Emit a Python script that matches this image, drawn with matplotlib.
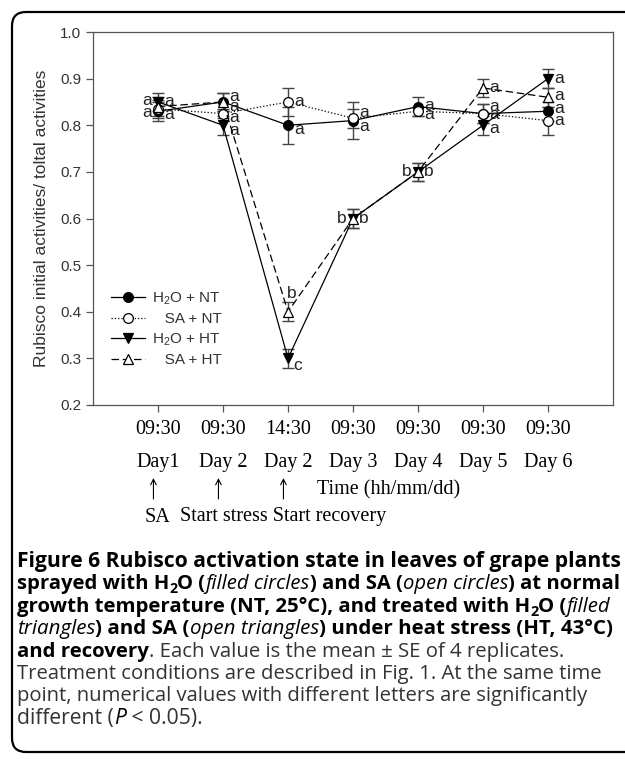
import numpy as np
import matplotlib.pyplot as plt
from matplotlib.patches import FancyBboxPatch
from matplotlib.transforms import IdentityTransform, blended_transform_factory

# sampling times (x positions 1..7)
time_labels = ['09:30', '09:30', '14:30', '09:30', '09:30', '09:30', '09:30']
day_labels = ['Day1', 'Day 2', 'Day 2', 'Day 3', 'Day 4', 'Day 5', 'Day 6']
event_labels = ['SA', 'Start stress', 'Start recovery']

# Rubisco initial / total activities, mean and SE
h2o_nt = [0.83, 0.85, 0.80, 0.81, 0.84, 0.825, 0.83]
h2o_nt_se = [0.02, 0.02, 0.04, 0.04, 0.02, 0.02, 0.02]
sa_nt = [0.835, 0.825, 0.85, 0.815, 0.83, 0.825, 0.81]
sa_nt_se = [0.02, 0.01, 0.03, 0.02, 0.01, 0.02, 0.03]
h2o_ht = [0.85, 0.80, 0.30, 0.60, 0.70, 0.80, 0.90]
h2o_ht_se = [0.02, 0.02, 0.02, 0.02, 0.02, 0.02, 0.02]
sa_ht = [0.84, 0.85, 0.40, 0.60, 0.70, 0.88, 0.86]
sa_ht_se = [0.02, 0.02, 0.02, 0.02, 0.02, 0.02, 0.02]

# significance letters
h2o_nt_let = ['a', 'a', 'a', 'a', 'a', 'a', 'a']
sa_nt_let = ['a', 'a', 'a', 'a', 'a', 'a', 'a']
h2o_ht_let = ['a', 'a', 'c', 'b', 'b', 'a', 'a']
sa_ht_let = ['a', 'a', 'b', 'b', 'b', 'a', 'a']

# letter offsets in points (dx, dy)
h2o_nt_off = [(-8, -1), (8, -3), (8, -3), (8, -4), (8, 1), (8, -1), (8, 2)]
sa_nt_off = [(8, -4), (8, -3), (8, 0), (8, 4), (8, -2), (8, 5), (8, 0)]
h2o_ht_off = [(-8, 1), (8, -4), (7, -5), (-8, 0), (-8, 0), (8, -2), (8, 0)]
sa_ht_off = [(8, 4), (8, 4), (3, 13), (8, 0), (8, 0), (8, 0), (8, 1)]

W, H = 625, 759
plt.rcParams['mathtext.default'] = 'regular'
fig = plt.figure(figsize=(W / 100, H / 100), dpi=100)
ax = fig.add_axes([93 / W, 1 - 405 / H, 520 / W, 373 / H])

x = np.arange(1, 8)
series = [
    (h2o_nt, h2o_nt_se, h2o_nt_let, h2o_nt_off, 'o', 'black', '-', 'H$_2$O + NT'),
    (sa_nt, sa_nt_se, sa_nt_let, sa_nt_off, 'o', 'white', ':', '   SA + NT'),
    (h2o_ht, h2o_ht_se, h2o_ht_let, h2o_ht_off, 'v', 'black', '-', 'H$_2$O + HT'),
    (sa_ht, sa_ht_se, sa_ht_let, sa_ht_off, '^', 'white', (0, (6, 3)), '   SA + HT'),
]
handles = []
for y, se, lets, offs, mk, fc, ls, lab in series:
    ax.errorbar(x, y, yerr=se, fmt='none', ecolor='#444444', elinewidth=1.0,
                capsize=4.5, capthick=1.0, zorder=2)
    h, = ax.plot(x, y, linestyle=ls, color='black', lw=0.9, marker=mk,
                 markersize=7, markerfacecolor=fc, markeredgecolor='black',
                 markeredgewidth=0.9, zorder=3, label=lab)
    handles.append(h)
    for xi, yi, t, (dx, dy) in zip(x, y, lets, offs):
        ax.annotate(t, (xi, yi), xytext=(dx, dy), textcoords='offset points',
                    ha='center', va='center', fontsize=12.5,
                    family='Liberation Sans', color='#222222')

ax.set_xlim(0, 8)
ax.set_ylim(0.2, 1.0)
ax.set_xticks(x)
ax.set_xticklabels([])
ax.set_yticks(np.arange(0.2, 1.01, 0.1))
ax.set_yticklabels([f'{v:.1f}' for v in np.arange(0.2, 1.01, 0.1)])
for sp in ax.spines.values():
    sp.set_color('#555555')
    sp.set_linewidth(0.9)
ax.tick_params(direction='out', length=5, width=0.9, color='#555555',
               labelsize=11, labelcolor='#333333')
for lb in ax.get_yticklabels():
    lb.set_family('Liberation Sans')
ax.set_ylabel('Rubisco initial activities/ toltal activities', fontsize=12.5,
              family='Liberation Sans', color='#333333', labelpad=8)

leg = ax.legend(handles=handles, loc='center left', bbox_to_anchor=(0.035, 0.205),
                frameon=False, handlelength=2.2, handletextpad=0.5,
                labelspacing=0.35, borderpad=0, borderaxespad=0,
                prop={'family': 'Liberation Sans', 'size': 11})
for t in leg.get_texts():
    t.set_color('#333333')

# time axis labels below the plot
bt = blended_transform_factory(ax.transData, fig.transFigure)
serif = 'Liberation Serif'
for xi, tl, dl in zip(x, time_labels, day_labels):
    fig.text(xi, 1 - 430 / H, tl, transform=bt, ha='center', va='center',
             fontsize=14.5, family=serif)
    fig.text(xi, 1 - 462 / H, dl, transform=bt, ha='center', va='center',
             fontsize=14.5, family=serif)
for xi in x[:3]:
    ax.annotate('', xy=(xi - 0.07, 1 - 478 / H), xytext=(xi - 0.07, 1 - 499 / H),
                xycoords=bt, textcoords=bt, annotation_clip=False,
                arrowprops=dict(arrowstyle='->', lw=0.8, color='black',
                                shrinkA=0, shrinkB=0))
fig.text(3.45, 1 - 490 / H, 'Time (hh/mm/dd)', transform=bt, ha='left',
         va='center', fontsize=14.5, family=serif)
fig.text(1, 1 - 517 / H, event_labels[0], transform=bt, ha='center',
         va='center', fontsize=14.5, family=serif)
fig.text(2.0 - 0.66, 1 - 517 / H, event_labels[1] + ' ' + event_labels[2],
         transform=bt, ha='left', va='center', fontsize=14.5, family=serif)

# caption
renderer = fig.canvas.get_renderer()
cap_size = 15.2
styles = {
    'B': dict(family='Open Sans', weight='bold', color='black'),
    'I': dict(family='Open Sans', style='italic', color='black'),
    'R': dict(family='Open Sans', color='#333333'),
}


def text_width(s, size, kw):
    a = fig.text(0, 0, '|' + s + '|', fontsize=size, **kw)
    b = fig.text(0, 0, '||', fontsize=size, **kw)
    w = a.get_window_extent(renderer).width - b.get_window_extent(renderer).width
    a.remove()
    b.remove()
    return w


def piece_size(st, base):
    return base * 0.7 if st.endswith('sub') else base


def draw_line(x0, y0, pieces, right):
    natural = sum(text_width(s, piece_size(st, cap_size), styles[st[0]])
                  for s, st in pieces)
    base = min(cap_size, cap_size * (right - x0) / natural)
    xp = x0
    for s, st in pieces:
        kw = styles[st[0]]
        size = piece_size(st, base)
        yy = y0 + (4 if st.endswith('sub') else 0)
        fig.text(xp / W, 1 - yy / H, s, fontsize=size, ha='left', va='baseline', **kw)
        xp += text_width(s, size, kw)


caption = [
    [('Figure 6 Rubisco activation state in leaves of grape plants', 'B')],
    [('sprayed with H', 'B'), ('2', 'Bsub'), ('O (', 'B'), ('filled circles', 'I'),
     (') and SA (', 'B'), ('open circles', 'I'), (') at normal', 'B')],
    [('growth temperature (NT, 25°C), and treated with H', 'B'), ('2', 'Bsub'),
     ('O (', 'B'), ('filled', 'I')],
    [('triangles', 'I'), (') and SA (', 'B'), ('open triangles', 'I'),
     (') under heat stress (HT, 43°C)', 'B')],
    [('and recovery', 'B'), ('. Each value is the mean ± SE of 4 replicates.', 'R')],
    [('Treatment conditions are described in Fig. 1. At the same time', 'R')],
    [('point, numerical values with different letters are significantly', 'R')],
    [('different (', 'R'), ('P', 'I'), (' < 0.05).', 'R')],
]
line_right = [622, 620, 612, 614, 566, 602, 586, 600]
for i, (line, r) in enumerate(zip(caption, line_right)):
    draw_line(17, 567 + i * 22.4, line, r)

# rounded frame around the whole figure
frame = FancyBboxPatch((12, H - 752), 640, 740, boxstyle='round,pad=0,rounding_size=14',
                       transform=IdentityTransform(), fill=False, lw=1.6,
                       edgecolor='black')
fig.patches.append(frame)

fig.savefig('out.png', dpi=100)
